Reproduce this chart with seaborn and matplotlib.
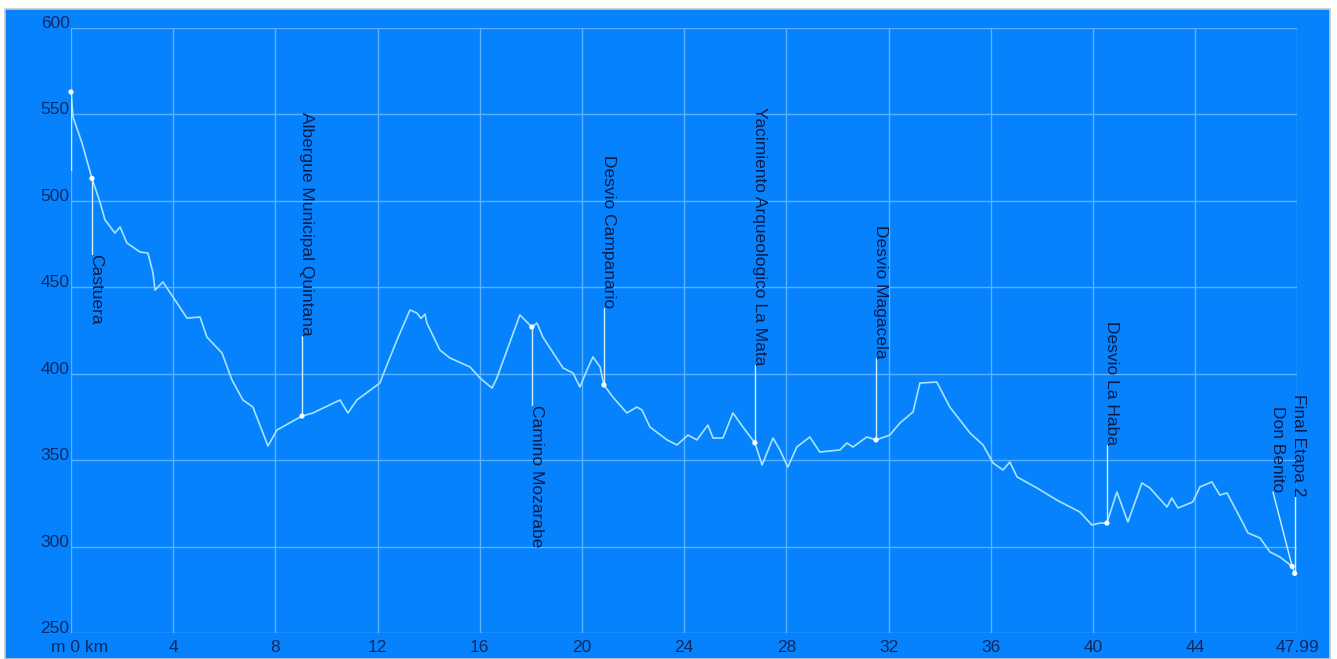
import matplotlib
matplotlib.use("Agg")
import matplotlib.pyplot as plt
import matplotlib.transforms as mtransforms
from matplotlib.patches import Rectangle
import numpy as np
import pandas as pd
import seaborn as sns

# ---- profile data (km, elevation m) ----
km = [0.0, 0.08, 0.43, 0.82, 1.14, 1.33, 1.72, 1.92, 2.19, 2.70,
      3.01, 3.21, 3.29, 3.60, 4.54, 5.05, 5.32, 5.91, 6.30, 6.73,
      7.12, 7.71, 8.06, 9.04, 9.47, 10.53, 10.84, 11.19, 12.09, 12.29,
      12.76, 13.27, 13.54, 13.70, 13.86, 13.93, 14.44, 14.83, 15.62, 16.01,
      16.48, 16.67, 17.57, 18.04, 18.24, 18.47, 19.26, 19.65, 19.92, 20.20,
      20.43, 20.71, 20.86, 21.21, 21.76, 22.15, 22.35, 22.66, 23.33, 23.72,
      24.15, 24.50, 24.93, 25.13, 25.52, 25.91, 26.30, 26.77, 27.05, 27.48,
      27.75, 28.06, 28.41, 28.92, 29.31, 30.10, 30.37, 30.61, 31.15, 31.51,
      32.05, 32.45, 32.96, 33.23, 33.89, 34.40, 35.19, 35.70, 36.09, 36.48,
      36.75, 37.03, 37.81, 38.59, 39.49, 39.96, 40.27, 40.55, 40.94, 41.37,
      41.92, 42.23, 42.90, 43.09, 43.33, 43.91, 44.19, 44.66, 44.97, 45.25,
      45.75, 46.07, 46.54, 46.93, 47.32, 47.80, 47.90, 47.99]
elev = [563, 548.5, 533.5, 513, 499, 489, 481.4, 484.9, 475.6, 470.4,
        469.8, 458.3, 448.4, 453.1, 432.2, 432.8, 421.2, 412.0, 396.4, 384.8,
        380.7, 358.2, 367.4, 375.5, 377.3, 384.8, 377.3, 384.8, 394.6, 402.2,
        419.5, 436.9, 435.1, 432, 434.5, 429.3, 413.7, 409.1, 403.9, 397.5,
        391.7, 397.5, 434.0, 427.0, 429.3, 421.2, 403.3, 400.4, 392.3, 402.2,
        409.7, 403.9, 393.5, 386.5, 377.3, 380.7, 379.0, 369.2, 361.7, 358.8,
        364.5, 361.7, 370.3, 362.8, 362.8, 377.3, 369.2, 360, 347.2, 362.8,
        355.9, 346.0, 357.6, 363.4, 354.7, 355.9, 359.9, 357.6, 363.4, 361.7,
        364.5, 371.5, 377.9, 394.6, 395.2, 380.7, 365.7, 358.8, 348.4, 344.3,
        348.9, 340.3, 333.9, 326.9, 320.0, 312.5, 313.6, 313.6, 331.6, 314.2,
        336.8, 333.9, 322.9, 328.1, 322.3, 325.8, 334.5, 337.4, 329.8, 331.0,
        317.1, 307.9, 305.0, 296.9, 294.0, 288.5, 284.5, 284]

# ---- points of interest ----
poi_labels = ["", "Castuera", "Albergue Municipal Quintana", "Camino Mozarabe",
              "Desvio Campanario", "Yacimiento Arqueologico La Mata",
              "Desvio Magacela", "Desvio La Haba", "Don Benito", "Final Etapa 2"]
poi_km = [0.0, 0.82, 9.04, 18.04, 20.86, 26.77, 31.51, 40.55, 47.80, 47.90]
poi_elev = [563, 513, 375.5, 427, 393.5, 360, 361.7, 313.6, 288.5, 284.5]
# where each leader line ends (and its label starts / ends)
leader_km = [0.0, 0.82, 9.04, 18.04, 20.86, 26.77, 31.51, 40.55, 47.05, 47.90]
leader_elev = [518, 469, 422, 382, 438, 405, 409, 359, 331.6, 328.7]

# ---- axis ticks ----
x_ticks = [0, 4, 8, 12, 16, 20, 24, 28, 32, 36, 40, 44, 47.99]
x_tick_labels = ["m 0 km", "4", "8", "12", "16", "20", "24", "28", "32",
                 "36", "40", "44", "47.99"]
y_ticks = [250, 300, 350, 400, 450, 500, 550, 600]

BLUE = "#0682fc"
GRID = "#5cb2ff"
PROFILE = "#a9e4ff"
LEADER = "#d2f1ff"
TICKCOL = "#0d2a62"
TEXTCOL = "#0a1c48"

sns.set_theme(style="dark")
plt.rcParams["font.family"] = ["Liberation Sans", "DejaVu Sans"]

W, H = 1337, 659
fig = plt.figure(figsize=(W / 100, H / 100), dpi=100, facecolor="white")
fig.patches.append(Rectangle((5 / W, 0), (1330 - 5) / W, (H - 9) / H,
                             transform=fig.transFigure, facecolor=BLUE,
                             edgecolor="#c8c8c8", linewidth=1.2, zorder=-10))

ax = fig.add_axes([71 / W, 1 - 633 / H, (1297 - 71) / W, (633 - 28) / H])
ax.set_zorder(1)
ax.patch.set_alpha(0)
for s in ax.spines.values():
    s.set_visible(False)

df = pd.DataFrame({"km": km, "elev": elev})
sns.lineplot(data=df, x="km", y="elev", ax=ax, color=PROFILE, linewidth=1.2,
             sort=False, estimator=None, zorder=3)

ax.set_xlim(0, 47.99)
ax.set_ylim(250, 600)
ax.set_xticks(x_ticks)
ax.set_xticklabels(x_tick_labels)
ax.set_yticks(y_ticks)
ax.set_xlabel("")
ax.set_ylabel("")
ax.grid(True, color=GRID, linewidth=1.0, zorder=1)
ax.set_axisbelow(True)
ax.tick_params(axis="both", length=0, labelsize=12.5, labelcolor=TICKCOL)
ax.tick_params(axis="x", pad=5)
ax.tick_params(axis="y", pad=1)
for lab in ax.get_yticklabels():
    lab.set_verticalalignment("baseline")
first = ax.get_xticklabels()[0]
first.set_horizontalalignment("left")
first.set_transform(first.get_transform() +
                    mtransforms.ScaledTranslation(-20 / 100, 0, fig.dpi_scale_trans))

# leader lines, points and labels
for lab, pk, pe, lk, le in zip(poi_labels, poi_km, poi_elev, leader_km, leader_elev):
    ax.plot([pk, lk], [pe, le], color=LEADER, linewidth=1.0, zorder=4)
    if lab:
        below = le < pe
        ax.annotate(lab, xy=(lk, le), xytext=(3, 0), textcoords="offset points",
                    rotation=270, rotation_mode="anchor",
                    ha="left" if below else "right", va="center",
                    fontsize=12.5, color=TEXTCOL, zorder=5)

pts = pd.DataFrame({"km": poi_km, "elev": poi_elev})
sns.scatterplot(data=pts, x="km", y="elev", ax=ax, color="white", s=14,
                edgecolor="none", zorder=6, clip_on=False)
ax.set_xlabel("")
ax.set_ylabel("")

fig.savefig("out.png", dpi=100, facecolor="white")
